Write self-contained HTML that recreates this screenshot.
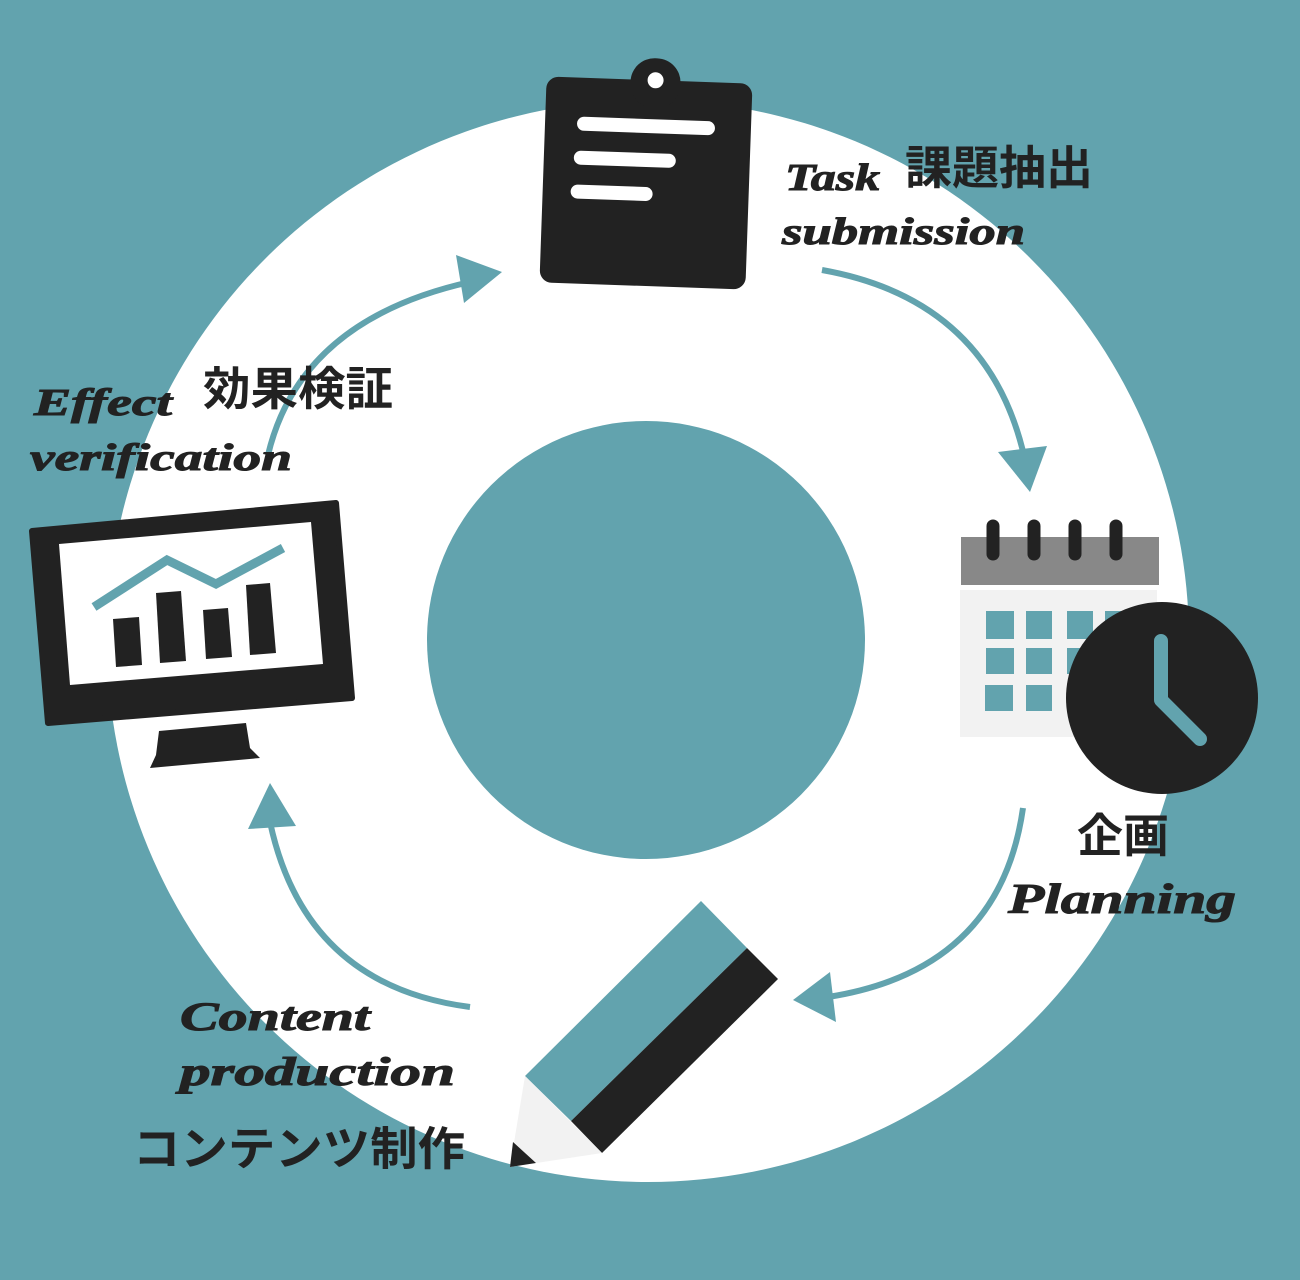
<!DOCTYPE html>
<html><head><meta charset="utf-8"><style>
html,body{margin:0;padding:0;background:#62a3ae}
svg{display:block}
.jp{font-family:"Liberation Sans","Noto Sans CJK JP",sans-serif;font-weight:bold;fill:#222}
.sc{font-family:"Liberation Serif",serif;font-style:italic;font-weight:bold;fill:#222;stroke:#222;stroke-width:1}
</style></head><body>
<svg width="1300" height="1280" viewBox="0 0 1300 1280" xmlns="http://www.w3.org/2000/svg">
<rect width="1300" height="1280" fill="#62a3ae"/>
<circle cx="648" cy="641" r="541" fill="#fff"/>
<circle cx="646" cy="640" r="219" fill="#62a3ae"/>

<g fill="none" stroke="#62a3ae" stroke-width="6">
<path d="M268 455 Q300 320 470 282"/>
<path d="M822 270 Q990 300 1025 460"/>
<path d="M1023 808 Q1000 970 828 997"/>
<path d="M470 1007 Q300 985 268 812"/>
</g>
<g fill="#62a3ae">
<polygon points="502,272 456,255 464,303"/>
<polygon points="1030,492 998,452 1047,446"/>
<polygon points="793,1000 830,972 836,1022"/>
<polygon points="270,783 248,829 296,826"/>
</g>

<g transform="rotate(2 646 183)">
<rect x="543" y="80" width="206" height="206" rx="12" fill="#222"/>
<rect x="627" y="58" width="50" height="50" rx="24" fill="#222"/>
<circle cx="652" cy="80" r="8" fill="#fff"/>
<g stroke="#fff" stroke-width="14" stroke-linecap="round">
<line x1="582" y1="126" x2="706" y2="126"/>
<line x1="580" y1="160" x2="668" y2="160"/>
<line x1="578" y1="194" x2="646" y2="194"/>
</g>
</g>

<rect x="961" y="537" width="198" height="48" fill="#888"/>
<rect x="960" y="590" width="197" height="147" fill="#f2f2f2"/>
<g stroke="#222" stroke-width="13" stroke-linecap="round">
<line x1="993" y1="526" x2="993" y2="554"/>
<line x1="1034" y1="526" x2="1034" y2="554"/>
<line x1="1075" y1="526" x2="1075" y2="554"/>
<line x1="1116" y1="526" x2="1116" y2="554"/>
</g>
<g fill="#62a3ae">
<rect x="986" y="611" width="28" height="28"/><rect x="1026" y="611" width="26" height="28"/><rect x="1067" y="611" width="26" height="28"/><rect x="1105" y="611" width="26" height="28"/>
<rect x="986" y="648" width="28" height="26"/><rect x="1026" y="648" width="26" height="26"/><rect x="1067" y="648" width="26" height="26"/>
<rect x="985" y="685" width="28" height="26"/><rect x="1026" y="685" width="26" height="26"/><rect x="1067" y="685" width="26" height="26"/>
</g>
<circle cx="1162" cy="698" r="96" fill="#222"/>
<polyline points="1161,641 1161,700 1200,739" fill="none" stroke="#62a3ae" stroke-width="14" stroke-linecap="round" stroke-linejoin="round"/>

<polygon points="701,901 747,948 571,1121 525,1076" fill="#62a3ae"/>
<polygon points="747,948 778,979 602,1153 571,1121" fill="#222"/>
<polygon points="525,1076 602,1153 510,1167" fill="#f2f2f2"/>
<polygon points="513,1142 536,1163 510,1167" fill="#222"/>

<polygon points="32,531 336,503 352,698 48,723" fill="#222" stroke="#222" stroke-width="6" stroke-linejoin="round"/>
<polygon points="59,544 311,522 323,664 70,685" fill="#fff"/>
<g fill="#222">
<polygon points="113,619 139,617 142,665 116,667"/>
<polygon points="156,593 181,591 186,661 160,663"/>
<polygon points="203,610 228,608 232,657 206,659"/>
<polygon points="246,585 270,583 276,653 250,655"/>
</g>
<polyline points="94,607 167,560 216,584 283,548" fill="none" stroke="#62a3ae" stroke-width="9"/>
<polygon points="159,731 246,723 250,748 260,758 150,768 156,755" fill="#222"/>

<text class="jp" x="905" y="184" font-size="46" textLength="188" lengthAdjust="spacingAndGlyphs">課題抽出</text>
<text class="sc" x="785" y="190" font-size="38" textLength="95" lengthAdjust="spacingAndGlyphs">Task</text>
<text class="sc" x="782" y="244" font-size="38" textLength="243" lengthAdjust="spacingAndGlyphs">submission</text>
<text class="jp" x="203" y="405" font-size="46" textLength="190" lengthAdjust="spacingAndGlyphs">効果検証</text>
<text class="sc" x="34" y="415" font-size="38" textLength="138" lengthAdjust="spacingAndGlyphs">Effect</text>
<text class="sc" x="30" y="470" font-size="38" textLength="262" lengthAdjust="spacingAndGlyphs">verification</text>
<text class="jp" x="1077" y="852" font-size="46" textLength="92" lengthAdjust="spacingAndGlyphs">企画</text>
<text class="sc" x="1008" y="913" font-size="42" textLength="228" lengthAdjust="spacingAndGlyphs">Planning</text>
<text class="sc" x="180" y="1030" font-size="40" textLength="190" lengthAdjust="spacingAndGlyphs">Content</text>
<text class="sc" x="180" y="1085" font-size="40" textLength="275" lengthAdjust="spacingAndGlyphs">production</text>
<text class="jp" x="133" y="1165" font-size="46" textLength="332" lengthAdjust="spacingAndGlyphs">コンテンツ制作</text>
</svg>
</body></html>
